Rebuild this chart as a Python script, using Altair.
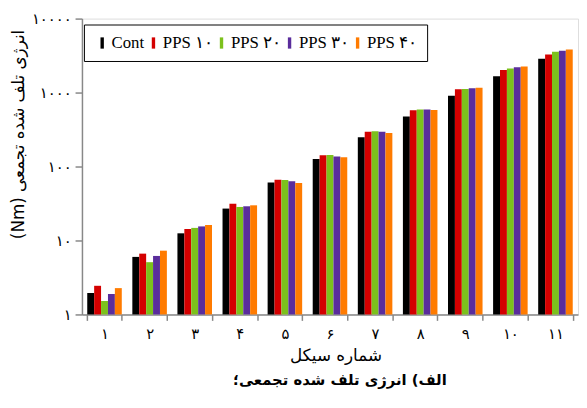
import altair as alt
import pandas as pd

cycles = ["۱", "۲", "۳", "۴", "۵", "۶", "۷", "۸", "۹", "۱۰", "۱۱"]
series = ["Cont", "PPS ۱۰", "PPS ۲۰", "PPS ۳۰", "PPS ۴۰"]
colors = ["#000000", "#D40000", "#7CC11C", "#5A2D9C", "#FF7B00"]

cont = [1.95, 6.0, 12.5, 27.0, 60.6, 126.6, 249, 474, 903, 1667, 2870]
pps10 = [2.44, 6.64, 14.3, 31.4, 66.4, 141.6, 296, 575, 1107, 2026, 3281]
pps20 = [1.52, 5.09, 14.8, 28.4, 65.7, 143, 299, 588, 1120, 2110, 3555]
pps30 = [1.89, 6.18, 15.5, 29.0, 63.1, 137, 296, 588, 1143, 2200, 3664]
pps40 = [2.27, 7.28, 16.2, 29.9, 60.0, 133, 284, 581, 1166, 2243, 3820]

y_ticks = [1, 10, 100, 1000, 10000]

x_title = "شماره سیکل"
caption = "الف) انرژی تلف شده تجمعی؛"
y_title = "(Nm) انرژی تلف شده تجمعی"

rows = []
for s, vals in zip(series, [cont, pps10, pps20, pps30, pps40]):
    for c, v in zip(cycles, vals):
        rows.append({"cycle": c, "series": s, "value": v})
df = pd.DataFrame(rows)

lat = "Liberation Serif"
fa = "DejaVu Sans"

y_label_expr = ("datum.value == 1 ? '۱' : datum.value == 10 ? '۱۰' : datum.value == 100 ? '۱۰۰' : "
                "datum.value == 1000 ? '۱۰۰۰' : '۱۰۰۰۰'")

bars = alt.Chart(df).mark_bar().encode(
    x=alt.X("cycle:N", sort=cycles,
            scale=alt.Scale(paddingInner=0.234, paddingOuter=0.117),
            axis=alt.Axis(title=x_title, labelAngle=0, tickBand="extent",
                          labelFont=fa, labelFontSize=15, labelPadding=6, labelColor="black",
                          titleFont=fa, titleFontSize=17, titleFontWeight="normal", titleColor="black",
                          titleX=257, titleY=42, titleAlign="center", titleBaseline="middle",
                          tickSize=6, domainColor="#888888", domainWidth=1.5,
                          tickColor="#888888", tickWidth=1.5)),
    xOffset=alt.XOffset("series:N", sort=series,
                        scale=alt.Scale(paddingInner=0, paddingOuter=0)),
    y=alt.Y("value:Q",
            scale=alt.Scale(type="log", domain=[1, 10000], nice=False),
            axis=alt.Axis(title=y_title, values=y_ticks, labelExpr=y_label_expr,
                          grid=False, labelFont=fa, labelFontSize=15, labelColor="black",
                          labelPadding=4, tickSize=7, domainColor="#888888", domainWidth=1.5,
                          tickColor="#888888", tickWidth=1.5,
                          titleFont=fa, titleFontSize=17, titleFontWeight="normal", titleColor="black",
                          titleAngle=270, titleX=-64, titleY=117, titleAlign="center",
                          titleBaseline="middle")),
    y2=alt.datum(1),
    color=alt.Color("series:N", sort=series,
                    scale=alt.Scale(domain=series, range=colors),
                    legend=alt.Legend(title=None, orient="none", legendX=2, legendY=6,
                                      direction="horizontal", strokeColor="black",
                                      fillColor="white", padding=10,
                                      symbolType="M-0.3,-1H0.3V1H-0.3Z", symbolSize=130,
                                      symbolStrokeWidth=0, labelFont=lat, labelFontSize=17,
                                      labelColor="black", columnPadding=0, labelOffset=1)),
)

chart = bars.properties(
    width=503, height=300,
    autosize=alt.AutoSizeParams(type="none"),
    padding={"left": 75, "top": 8, "right": 1, "bottom": 84},
    title=alt.TitleParams(caption, orient="bottom",
                          anchor="middle", dx=10, offset=10, font=fa, fontSize=15,
                          fontWeight="bold", color="black"),
).configure_view(stroke="#888888", strokeWidth=1.5).configure(background="white")

chart.save("out.html", embed_options={"renderer": "svg", "actions": False})
